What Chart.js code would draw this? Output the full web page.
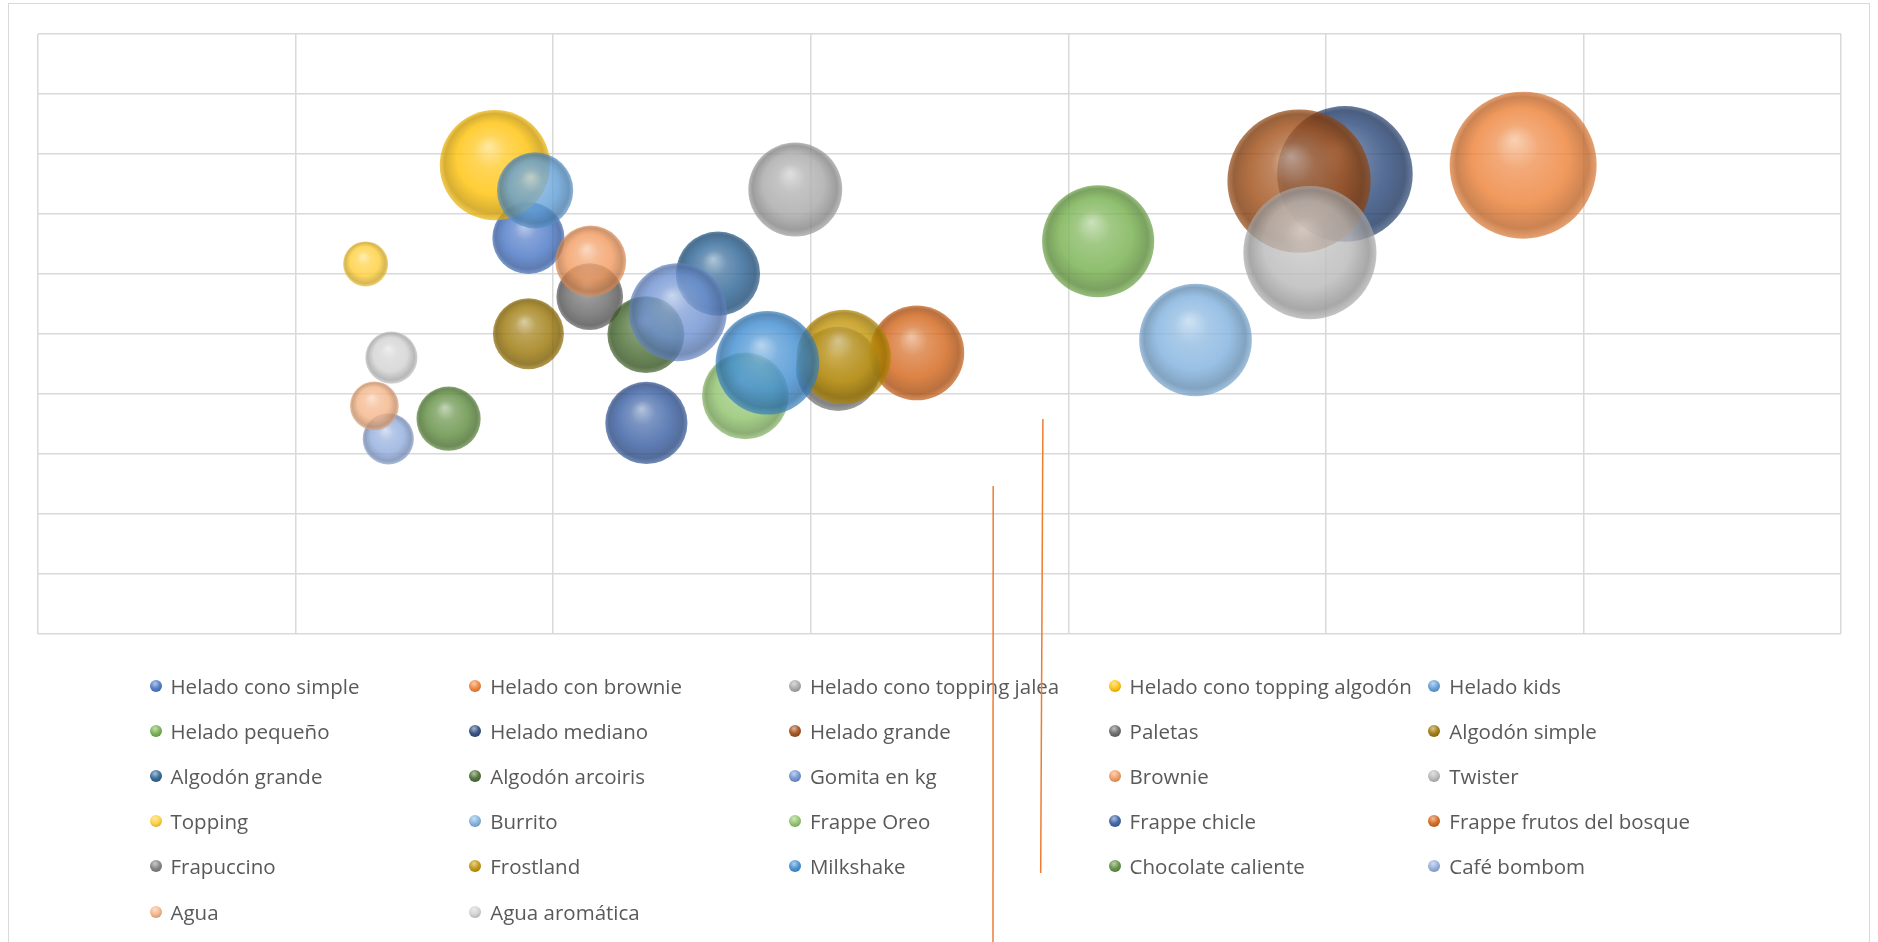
<!DOCTYPE html>
<html lang="es">
<head>
<meta charset="utf-8">
<title>Productos - gráfico de burbujas</title>
<script src="https://cdn.jsdelivr.net/npm/chart.js@4.4.1/dist/chart.umd.min.js"></script>
<style>
html, body { margin:0; padding:0; background:#fff; }
body { width:1878px; height:942px; position:relative; overflow:hidden; font-family:"Open Sans", sans-serif; }
#marco { position:absolute; left:8px; top:3px; width:1862px; height:980px; border:1.5px solid #d9d9d9; box-sizing:border-box; }
#lienzo { position:absolute; left:0; top:0; }
.item { position:absolute; height:30px; display:flex; align-items:center; font-size:20.5px; color:#595959; white-space:nowrap; }
.punto { width:12px; height:12px; border-radius:50%; margin-right:9px; flex:none; }
#trazos { position:absolute; left:0; top:0; pointer-events:none; }
</style>
</head>
<body>
<div id="marco"></div>
<canvas id="lienzo" width="1878" height="942"></canvas>
<div id="leyenda"></div>
<svg id="trazos" width="1878" height="942">
	<line x1="993.2" y1="486" x2="993" y2="942" stroke="#ED7D31" stroke-width="1.5"/>
	<line x1="1042.9" y1="419" x2="1040.7" y2="873" stroke="#ED7D31" stroke-width="1.5"/>
</svg>
<script>
// Datos del grafico

const productos = [
	"Helado cono simple", "Helado con brownie", "Helado cono topping jalea", "Helado cono topping algodón", "Helado kids",
	"Helado pequeño", "Helado mediano", "Helado grande", "Paletas", "Algodón simple",
	"Algodón grande", "Algodón arcoiris", "Gomita en kg", "Brownie", "Twister",
	"Topping", "Burrito", "Frappe Oreo", "Frappe chicle", "Frappe frutos del bosque",
	"Frapuccino", "Frostland", "Milkshake", "Chocolate caliente", "Café bombom",
	"Agua", "Agua aromática"
];

const valoresX = [
	9.52, 28.83, 14.70, 8.87, 9.65,
	20.58, 25.37, 24.48, 10.71, 9.52,
	13.20, 11.80, 12.42, 10.73, 24.69,
	6.36, 22.47, 13.73, 11.81, 17.06,
	15.53, 15.64, 14.16, 7.97, 6.80,
	6.53, 6.86
];

const valoresY = [
	33.00, 39.07, 37.04, 39.07, 36.97,
	32.73, 38.34, 37.74, 28.11, 25.02,
	30.03, 24.95, 26.81, 31.08, 31.78,
	30.84, 24.50, 19.84, 17.59, 23.42,
	22.09, 23.09, 22.60, 17.94, 16.26,
	19.01, 23.03
];

// tamaño de burbuja (proporcional al area)
const tamanos = [
	24.1, 100, 40.8, 56.3, 26.9,
	58.2, 85.1, 95.1, 20.6, 23.3,
	32.8, 27.4, 44.5, 23.3, 82.1,
	9.4, 58.8, 34.7, 31.3, 41.6,
	32.8, 41.1, 49.7, 19.1, 12.1,
	11.0, 12.6
];

const ticksX = { min: 0, max: 35, paso: 5 };
const ticksY = { min: 0, max: 50, paso: 5 };

const colores = [
	"#4472C4", "#ED7D31", "#A5A5A5", "#FFC000", "#5B9BD5",
	"#70AD47", "#264478", "#9E480E", "#636363", "#997300",
	"#255E91", "#43682B", "#698ED0", "#F1975A", "#B7B7B7",
	"#FFCD33", "#7CAFDD", "#8CC168", "#335AA1", "#D26012",
	"#7C7C7C", "#BF9000", "#3A8AD0", "#5A8A39", "#8FAADC",
	"#F4B183", "#D0D0D0"
];

const RADIO_MAX = 73.5
const ALFA = 0.8


// Colores

function mezclar(hex, otro, t, a){
	let r = parseInt(hex.substr(1,2),16), g = parseInt(hex.substr(3,2),16), b = parseInt(hex.substr(5,2),16);
	r = Math.round(r + (otro[0]-r)*t);
	g = Math.round(g + (otro[1]-g)*t);
	b = Math.round(b + (otro[2]-b)*t);
	return `rgba(${r},${g},${b},${a})`;
}
const BLANCO = [255,255,255], NEGRO = [0,0,0];

// efecto 3D de las burbujas
function degradado(ctx){
	let base = colores[ctx.datasetIndex];
	let chart = ctx.chart;
	if (ctx.type !== "data" || !chart.scales.x || !chart.chartArea) return mezclar(base, BLANCO, 0, ALFA);
	let p = ctx.raw;
	let cx = chart.scales.x.getPixelForValue(p.x);
	let cy = chart.scales.y.getPixelForValue(p.y);
	let r = p.r;
	let g = chart.ctx.createRadialGradient(cx - 0.12*r, cy - 0.35*r, 0, cx, cy, r);
	g.addColorStop(0, mezclar(base, BLANCO, 0.55, ALFA));
	g.addColorStop(0.3, mezclar(base, BLANCO, 0.18, ALFA));
	g.addColorStop(0.65, mezclar(base, BLANCO, 0.02, ALFA));
	g.addColorStop(0.9, mezclar(base, NEGRO, 0.2, ALFA));
	g.addColorStop(1, mezclar(base, NEGRO, 0.08, ALFA * 0.85));
	return g;
}


// Datasets

let datasets = productos.map((nombre, i) => ({
	label: nombre,
	data: [{ x: valoresX[i], y: valoresY[i], r: RADIO_MAX * Math.sqrt(tamanos[i] / 100) }],
	backgroundColor: degradado,
	borderWidth: 0,
	order: productos.length - i   // las ultimas series quedan encima, como en Excel
}));

function ejeOculto(t){
	return {
		type: "linear",
		min: t.min,
		max: t.max,
		ticks: { display: false, stepSize: t.paso },
		grid: { color: "#d9d9d9", lineWidth: 1.5, drawTicks: false },
		border: { display: false },
		afterFit: s => { if (s.isHorizontal()) s.height = 0; else s.width = 0; }
	};
}

new Chart(document.getElementById("lienzo"), {
	type: "bubble",
	data: { datasets: datasets },
	options: {
		responsive: false,
		animation: false,
		layout: { autoPadding: false, padding: { left: 38, top: 34, right: 37, bottom: 308 } },
		plugins: {
			legend: { display: false },
			tooltip: { enabled: false }
		},
		scales: {
			x: ejeOculto(ticksX),
			y: ejeOculto(ticksY)
		}
	}
});


// Leyenda (5 columnas, como en Excel)

let leyenda = document.getElementById("leyenda")
productos.forEach((nombre, i) => {
	let col = i % 5, fila = Math.floor(i / 5);
	let item = document.createElement("div");
	item.className = "item";
	item.style.left = (149.5 + col * 319.7) + "px";
	item.style.top = (671 + fila * 45.1) + "px";
	let c = colores[i];
	item.innerHTML = `<span class="punto" style="background: radial-gradient(circle at 42% 30%, ${mezclar(c, BLANCO, 0.6, 1)} 0%, ${mezclar(c, BLANCO, 0.1, 1)} 45%, ${mezclar(c, NEGRO, 0.25, 1)} 100%)"></span>${nombre}`;
	leyenda.appendChild(item);
});
</script>
</body>
</html>
